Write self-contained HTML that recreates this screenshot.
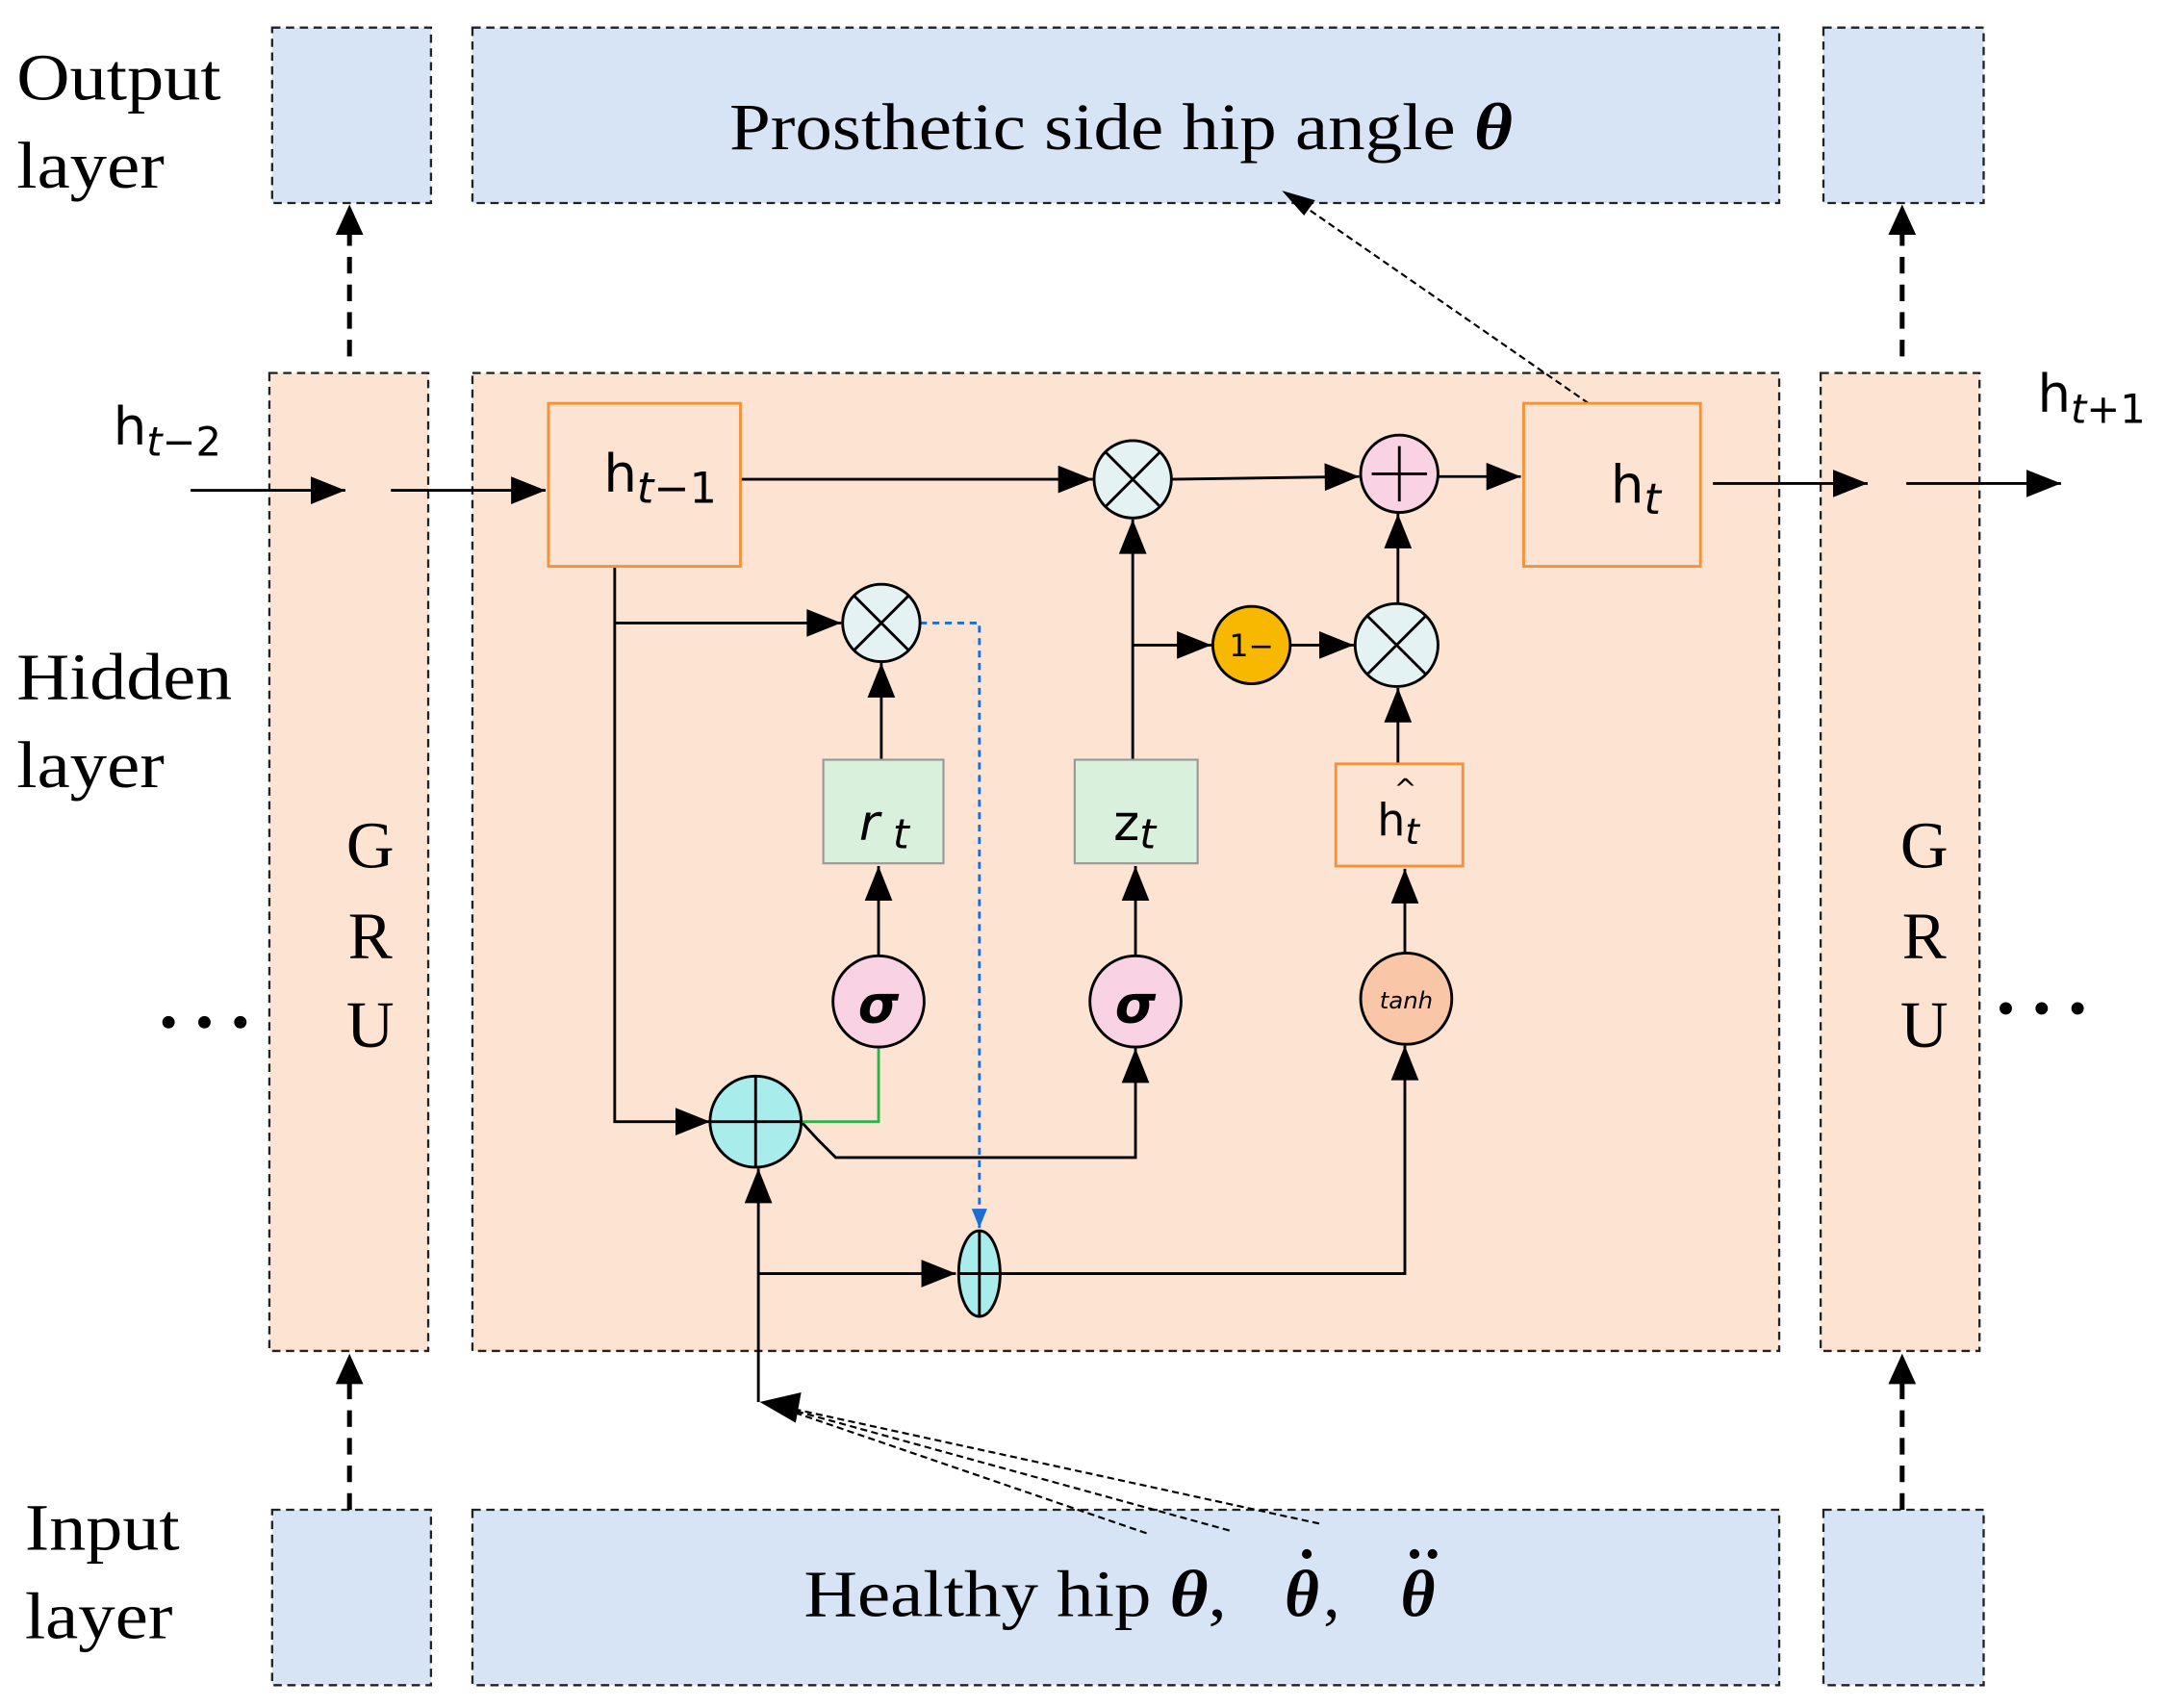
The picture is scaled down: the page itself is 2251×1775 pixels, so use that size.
<!DOCTYPE html>
<html><head><meta charset="utf-8"><style>
html,body{margin:0;padding:0;background:#fff;}
svg{display:block;}
.s{font-family:"Liberation Serif",serif;}
.a{font-family:"DejaVu Sans","Liberation Sans",sans-serif;}
</style></head><body>
<svg width="2251" height="1775" viewBox="0 0 1568 1236.5" preserveAspectRatio="none" xmlns="http://www.w3.org/2000/svg">
<defs>
<marker id="A" viewBox="0 0 10 8" refX="10" refY="4" markerWidth="26" markerHeight="20" orient="auto" markerUnits="userSpaceOnUse"><path d="M0,0L10,4L0,8z" fill="#000"/></marker>
<marker id="B" viewBox="0 0 10 8" refX="10" refY="4" markerWidth="14" markerHeight="16" orient="auto" markerUnits="userSpaceOnUse"><path d="M0,0L10,4L0,8z" fill="#1a6fd6"/></marker>
</defs>
<g stroke="#222" stroke-width="1.6" stroke-dasharray="6,4">
<rect x="197" y="20" width="115" height="127" fill="#d6e4f5"/>
<rect x="342" y="20" width="946" height="127" fill="#d6e4f5"/>
<rect x="1320" y="20" width="116" height="127" fill="#d6e4f5"/>
<rect x="195" y="270" width="115" height="708" fill="#fde3d2"/>
<rect x="342" y="270" width="946" height="708" fill="#fde3d2"/>
<rect x="1318" y="270" width="115" height="708" fill="#fde3d2"/>
<rect x="197" y="1093" width="115" height="127" fill="#d6e4f5"/>
<rect x="342" y="1093" width="946" height="127" fill="#d6e4f5"/>
<rect x="1320" y="1093" width="116" height="127" fill="#d6e4f5"/>
</g>
<g class="s" font-size="48" fill="#000">
<text x="12" y="72" textLength="148" lengthAdjust="spacingAndGlyphs">Output</text><text x="12" y="136" textLength="107" lengthAdjust="spacingAndGlyphs">layer</text>
<text x="12" y="506" textLength="156" lengthAdjust="spacingAndGlyphs">Hidden</text><text x="12" y="570" textLength="107" lengthAdjust="spacingAndGlyphs">layer</text>
<text x="18" y="1122" textLength="112" lengthAdjust="spacingAndGlyphs">Input</text><text x="18" y="1186" textLength="107" lengthAdjust="spacingAndGlyphs">layer</text>
<text x="268" y="628" text-anchor="middle">G</text><text x="268" y="694" text-anchor="middle">R</text><text x="268" y="758" text-anchor="middle">U</text>
<text x="1393" y="628" text-anchor="middle">G</text><text x="1393" y="694" text-anchor="middle">R</text><text x="1393" y="758" text-anchor="middle">U</text>
<text x="528" y="108" textLength="567" lengthAdjust="spacingAndGlyphs">Prosthetic side hip angle <tspan font-style="italic" font-weight="bold">θ</tspan></text>
<text x="582" y="1170" textLength="306" lengthAdjust="spacingAndGlyphs">Healthy hip <tspan font-style="italic" font-weight="bold">θ</tspan>,</text>
<text x="930" y="1170" font-style="italic" font-weight="bold">θ</text><text x="958" y="1170">,</text>
<text x="1014" y="1170" font-style="italic" font-weight="bold">θ</text>
</g>
<g fill="#000">
<circle cx="946" cy="1125" r="3.5"/>
<circle cx="1024" cy="1125" r="3.5"/><circle cx="1037" cy="1125" r="3.5"/>
<circle cx="122" cy="740" r="4.5"/><circle cx="148" cy="740" r="4.5"/><circle cx="174" cy="740" r="4.5"/>
<circle cx="1452" cy="730" r="4.5"/><circle cx="1478" cy="730" r="4.5"/><circle cx="1504" cy="730" r="4.5"/>
</g>
<g stroke="#000" stroke-width="3.5" stroke-dasharray="12,8" fill="none">
<line x1="253" y1="258" x2="253" y2="168"/><line x1="1377" y1="258" x2="1377" y2="168"/>
<line x1="253" y1="1093" x2="253" y2="1000"/><line x1="1377" y1="1093" x2="1377" y2="1000"/>
</g>
<g fill="#000">
<path d="M243,170L253,148L263,170z"/><path d="M1367,170L1377,148L1387,170z"/>
<path d="M243,1002L253,980L263,1002z"/><path d="M1367,1002L1377,980L1387,1002z"/>
</g>
<g class="a" font-size="38" fill="#000">
<text x="82" y="322">h<tspan font-size="29" font-style="italic" dy="8">t</tspan><tspan font-size="29">−2</tspan></text>
<text x="1475" y="298">h<tspan font-size="29" font-style="italic" dy="8">t</tspan><tspan font-size="29">+1</tspan></text>
<text x="437" y="356">h<tspan font-size="31" font-style="italic" dy="8">t</tspan><tspan font-size="31">−1</tspan></text>
<text x="1166" y="364">h<tspan font-size="31" font-style="italic" dy="8">t</tspan></text>
</g>
<g stroke="#000" stroke-width="2" fill="none">
<line x1="138" y1="355" x2="250" y2="355" marker-end="url(#A)"/>
<line x1="283" y1="355" x2="395" y2="355" marker-end="url(#A)"/>
<line x1="1240" y1="350" x2="1352" y2="350" marker-end="url(#A)"/>
<line x1="1380" y1="350" x2="1492" y2="350" marker-end="url(#A)"/>
<line x1="536" y1="347" x2="791" y2="347" marker-end="url(#A)"/>
<line x1="848" y1="347" x2="984" y2="345" marker-end="url(#A)"/>
<line x1="1041" y1="345" x2="1101" y2="345" marker-end="url(#A)"/>
<polyline points="445,410 445,812 514,812" marker-end="url(#A)"/>
<line x1="445" y1="451" x2="609" y2="451" marker-end="url(#A)"/>
<line x1="638" y1="550" x2="638" y2="480" marker-end="url(#A)"/>
<line x1="636" y1="692" x2="636" y2="627" marker-end="url(#A)"/>
<polyline points="580,812 592,825 605,838 822,838 822,759" marker-end="url(#A)"/>
<line x1="822" y1="692" x2="822" y2="627" marker-end="url(#A)"/>
<line x1="820" y1="550" x2="820" y2="376" marker-end="url(#A)"/>
<line x1="820" y1="467" x2="877" y2="467" marker-end="url(#A)"/>
<line x1="934" y1="467" x2="980" y2="467" marker-end="url(#A)"/>
<line x1="1012" y1="437" x2="1012" y2="372" marker-end="url(#A)"/>
<line x1="1012" y1="553" x2="1012" y2="498" marker-end="url(#A)"/>
<line x1="1017" y1="690" x2="1017" y2="629" marker-end="url(#A)"/>
<line x1="549" y1="1015" x2="549" y2="846" marker-end="url(#A)"/>
<line x1="549" y1="922" x2="692" y2="922" marker-end="url(#A)"/>
<polyline points="724,922 1017,922 1017,757" marker-end="url(#A)"/>
</g>
<polyline points="580,812 636,812 636,758" stroke="#2db34a" stroke-width="2" fill="none"/>
<polyline points="666,451 709,451 709,889" stroke="#1a6fd6" stroke-width="2" stroke-dasharray="5,4" fill="none" marker-end="url(#B)"/>
<g stroke="#000" stroke-width="1.5" stroke-dasharray="5,3" fill="none">
<line x1="1150" y1="292" x2="932" y2="141"/>
<line x1="830" y1="1110" x2="556" y2="1016"/>
<line x1="890" y1="1108" x2="556" y2="1016"/>
<line x1="955" y1="1103" x2="556" y2="1016"/>
</g>
<path d="M928,138L952,145L944,156z" fill="#000"/>
<path d="M550,1015L580,1008L576,1030z" fill="#000"/>
<rect x="397" y="292" width="139" height="118" fill="none" stroke="#f5913a" stroke-width="2"/>
<rect x="1103" y="292" width="128" height="118" fill="none" stroke="#f5913a" stroke-width="2"/>
<rect x="967" y="553" width="92" height="74" fill="#fde3d2" stroke="#f5913a" stroke-width="2"/>
<rect x="596" y="550" width="87" height="75" fill="#d9f0dc" stroke="#999" stroke-width="1.5"/>
<rect x="778" y="550" width="89" height="75" fill="#d9f0dc" stroke="#999" stroke-width="1.5"/>
<g class="a" font-size="36" fill="#000">
<text x="622" y="608" font-style="italic">r<tspan font-size="30" dy="6"> t</tspan></text>
<text x="806" y="608">z<tspan font-size="30" font-style="italic" dy="6">t</tspan></text>
<text x="997" y="605" font-size="32">h<tspan font-size="26" font-style="italic" dy="6">t</tspan></text>
<text x="1009" y="578" font-size="20">^</text>
</g>
<g stroke="#000" stroke-width="2">
<circle cx="820" cy="347" r="28" fill="#e4f2f4"/><path d="M800,327L840,367M840,327L800,367"/>
<circle cx="638" cy="451" r="28" fill="#e4f2f4"/><path d="M618,431L658,471M658,431L618,471"/>
<circle cx="1011" cy="467" r="30" fill="#e4f2f4"/><path d="M990,446L1032,488M1032,446L990,488"/>
<circle cx="1013" cy="343" r="28" fill="#f9d3e3"/><path d="M993,343H1033M1013,323V363"/>
<circle cx="906" cy="467" r="28" fill="#f8b800"/>
<circle cx="636" cy="725" r="33" fill="#f9d3e3"/>
<circle cx="822" cy="725" r="33" fill="#f9d3e3"/>
<circle cx="1018" cy="723" r="33" fill="#f9c7a8"/>
<circle cx="547" cy="812" r="33" fill="#a8ecec"/><path d="M514,812H580M547,779V845"/>
<ellipse cx="709" cy="922" rx="15" ry="31" fill="#a8ecec"/><path d="M694,922H724M709,891V953"/>
</g>
<g class="a" fill="#000" text-anchor="middle">
<text x="906" y="475" font-size="22">1−</text>
<text x="636" y="740" font-size="38" font-style="italic" font-weight="bold">σ</text>
<text x="822" y="740" font-size="38" font-style="italic" font-weight="bold">σ</text>
<text x="1018" y="730" font-size="17" font-style="italic">tanh</text>
</g>
</svg>
</body></html>
